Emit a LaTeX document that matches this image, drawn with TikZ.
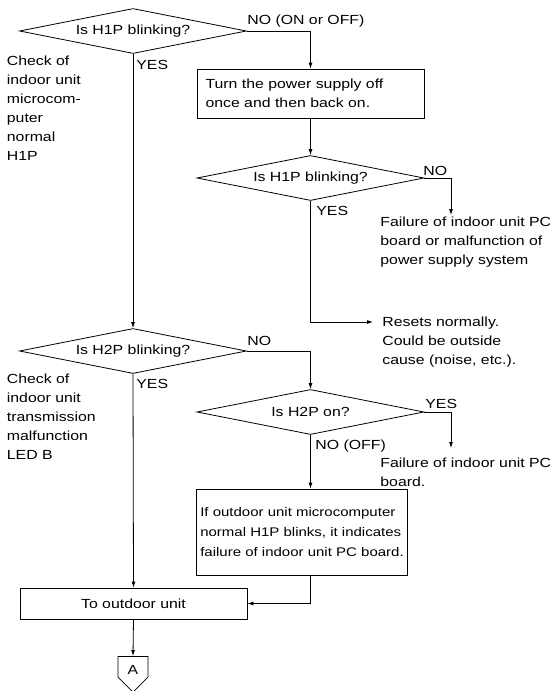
\documentclass[tikz,border=0pt]{standalone}
\usepackage{fontspec}
\setmainfont{Liberation Sans}[FakeStretch=1.2]
\usetikzlibrary{shapes.geometric,shapes.symbols,arrows.meta}

\begin{document}
\begin{tikzpicture}[x=1pt,y=-1pt,
		font=\fontsize{13.2}{19}\selectfont,
		line width=0.8pt,
		>={Latex[length=6pt,width=4pt]},
		decision/.style={diamond,draw,aspect=5,minimum width=227pt,
			minimum height=45pt,inner sep=0pt},
		box/.style={rectangle,draw,align=left,inner ysep=0pt},
		note/.style={anchor=north west,inner sep=0pt,align=left},
		lbl/.style={anchor=base west,inner sep=0pt}
		]
		\useasboundingbox (0,0) rectangle (555,691);
		
		% questions
		\node[decision] (q1) at (133,31) {Is H1P blinking?};
		\node[decision] (q2) at (310.5,178) {Is H1P blinking?};
		\node[decision] (q3) at (133,351) {Is H2P blinking?};
		\node[decision] (q4) at (310.5,412) {Is H2P on?};
		
		% actions
		\node[box,text width=210pt,inner xsep=8.5pt,minimum height=49pt]
			(power) at (310.5,93.5) {Turn the power supply off\\once and then back on.};
		\node[box,inner xsep=3.5pt,minimum width=210pt,minimum height=86pt,
			font=\fontsize{12.5}{20}\selectfont]
			(check) at (302,532) {If outdoor unit microcomputer\\normal H1P blinks, it indicates\\failure of indoor unit PC board.};
		\node[box,align=center,inner sep=0pt,minimum width=227pt,minimum height=31pt]
			(outdoor) at (133.5,603.5) {To outdoor unit};
		\node[draw,signal,signal to=south,minimum width=30pt,minimum height=26pt,
			text height=15pt,text depth=0pt,inner sep=0pt,anchor=north] (A) at (133,656) {A};
		
		% results and remarks
		\node[note] (led1) at (6.5,56) {Check of\\indoor unit\\microcom-\\puter\\normal\\H1P};
		\node[note] (led2) at (6.5,374) {Check of\\indoor unit\\transmission\\malfunction\\LED B};
		\node[note] (fail1) at (380,217) {Failure of indoor unit PC\\board or malfunction of\\power supply system};
		\node[note] (reset) at (382,317) {Resets normally.\\Could be outside\\cause (noise, etc.).};
		\node[note] (fail2) at (380,458) {Failure of indoor unit PC\\board.};
		
		\coordinate (f1) at (451,215);
		\coordinate (r1) at (373,322);
		\coordinate (f2) at (451,448);
		
		% answers
		\node[lbl] (no1) at (247,24) {NO (ON or OFF)};
		\node[lbl] (yes1) at (136,69) {YES};
		\node[lbl] (no2) at (423,175.5) {NO};
		\node[lbl] (yes2) at (316,215) {YES};
		\node[lbl] (no3) at (247,345) {NO};
		\node[lbl] (yes3) at (136,388) {YES};
		\node[lbl] (yes4) at (425,408) {YES};
		\node[lbl] (no4) at (315,449) {NO (OFF)};
		
		% flow lines
		\draw[->] (q1.east) -| (power.north);
		\draw[->] (power.south) -- (q2.north);
		\draw[->] (q2.east) -| (f1);
		\draw[->] (q2.south) |- (r1);
		\draw[->] (q1.south) -- (q3.north);
		\draw[->] (q3.east) -| (q4.north);
		\draw[->] (q4.east) -| (f2);
		\draw[->] (q4.south) -- (q4.south |- check.north);
		\draw[->] (q4.south |- check.south) |- (outdoor.east);
		\draw[->] (q3.south) -- (outdoor.north);
		\draw[->] (outdoor.south) -- (A.north);
	\end{tikzpicture}
\end{document}
